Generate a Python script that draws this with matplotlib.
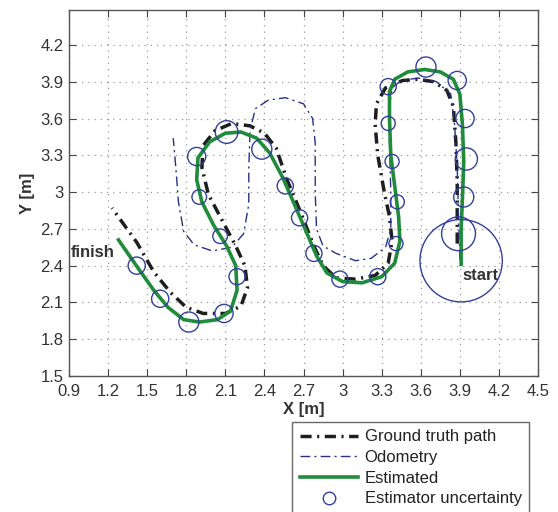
"""Recreate the trajectory comparison plot: ground truth, odometry, estimate."""

import matplotlib

matplotlib.use("Agg")
import matplotlib.pyplot as plt
from matplotlib.lines import Line2D
from matplotlib.ticker import FuncFormatter

plt.rcParams["font.family"] = ["Liberation Sans", "DejaVu Sans"]

# Ground truth path (start -> finish), metres
gt_x = [3.88, 3.88, 3.88, 3.87, 3.85, 3.80, 3.70, 3.58, 3.46, 3.33, 3.26, 3.25,
        3.27, 3.32, 3.36, 3.38, 3.35, 3.25, 3.10, 2.95, 2.85, 2.78, 2.68, 2.57,
        2.49, 2.40, 2.29, 2.15, 2.02, 1.93, 1.92, 1.97, 2.07, 2.18, 2.25, 2.27,
        2.22, 2.10, 1.93, 1.80, 1.68, 1.55, 1.42, 1.23]
gt_y = [2.58, 2.80, 3.08, 3.40, 3.70, 3.83, 3.90, 3.92, 3.91, 3.85, 3.72, 3.55,
        3.30, 3.00, 2.80, 2.60, 2.42, 2.32, 2.29, 2.30, 2.40, 2.56, 2.83, 3.11,
        3.36, 3.48, 3.54, 3.56, 3.50, 3.38, 3.20, 2.98, 2.78, 2.56, 2.40, 2.22,
        2.07, 2.01, 2.01, 2.06, 2.18, 2.35, 2.59, 2.87]

# Odometry (start -> end)
odo_x = [3.90, 3.89, 3.88, 3.86, 3.83, 3.72, 3.58, 3.45, 3.38, 3.36, 3.36, 3.37,
         3.37, 3.33, 3.22, 3.10, 2.95, 2.85, 2.80, 2.79, 2.79, 2.77, 2.70, 2.56,
         2.43, 2.33, 2.29, 2.28, 2.28, 2.24, 2.15, 2.00, 1.86, 1.78, 1.74, 1.72,
         1.70]
odo_y = [2.45, 2.80, 3.20, 3.55, 3.80, 3.90, 3.93, 3.91, 3.85, 3.70, 3.40, 3.00,
         2.70, 2.55, 2.46, 2.44, 2.50, 2.56, 2.70, 3.00, 3.40, 3.60, 3.72, 3.77,
         3.75, 3.68, 3.50, 3.20, 2.90, 2.66, 2.55, 2.52, 2.57, 2.68, 2.92, 3.20,
         3.44]

# Estimated path (start -> finish)
est_x = [3.91, 3.91, 3.92, 3.93, 3.92, 3.90, 3.85, 3.75, 3.63, 3.50, 3.40, 3.36,
         3.36, 3.37, 3.40, 3.43, 3.44, 3.40, 3.30, 3.15, 3.00, 2.88, 2.80, 2.72,
         2.63, 2.54, 2.44, 2.34, 2.22, 2.10, 1.98, 1.89, 1.88, 1.92, 2.01, 2.11,
         2.18, 2.19, 2.14, 2.04, 1.90, 1.78, 1.66, 1.55, 1.43, 1.28]
est_y = [2.41, 2.70, 2.95, 3.25, 3.55, 3.80, 3.92, 3.98, 4.00, 3.98, 3.92, 3.82,
         3.60, 3.30, 3.05, 2.80, 2.60, 2.42, 2.31, 2.26, 2.27, 2.34, 2.48, 2.68,
         2.90, 3.12, 3.32, 3.44, 3.49, 3.48, 3.41, 3.28, 3.10, 2.92, 2.73, 2.56,
         2.40, 2.20, 2.03, 1.96, 1.94, 1.96, 2.06, 2.20, 2.38, 2.61]

# Estimator uncertainty circles: centre and radius (metres)
unc_x = [3.91, 3.89, 3.93, 3.95, 3.94, 3.88, 3.64, 3.35, 3.35, 3.38, 3.42, 3.41,
         3.27, 2.98, 2.78, 2.67, 2.56, 2.38, 2.11, 1.88, 1.90, 2.06, 2.19, 2.09,
         1.82, 1.60, 1.42]
unc_y = [2.44, 2.66, 2.96, 3.27, 3.60, 3.91, 4.02, 3.86, 3.56, 3.25, 2.92, 2.58,
         2.31, 2.29, 2.50, 2.79, 3.05, 3.35, 3.49, 3.29, 2.96, 2.64, 2.31, 2.01,
         1.94, 2.13, 2.40]
unc_r = [0.316, 0.130, 0.077, 0.085, 0.070, 0.070, 0.077, 0.062, 0.054, 0.054,
         0.054, 0.054, 0.062, 0.062, 0.062, 0.062, 0.062, 0.077, 0.087, 0.070,
         0.056, 0.056, 0.062, 0.070, 0.077, 0.066, 0.066]

x_ticks = [0.9, 1.2, 1.5, 1.8, 2.1, 2.4, 2.7, 3.0, 3.3, 3.6, 3.9, 4.2, 4.5]
y_ticks = [1.5, 1.8, 2.1, 2.4, 2.7, 3.0, 3.3, 3.6, 3.9, 4.2]

GT_COLOR = "#1e1e1e"
ODO_COLOR = "#2a2f86"
EST_COLOR = "#1f8b3b"
UNC_COLOR = "#33409a"
GT_DASH = (3.2, 1.6, 0.6, 1.6)
ODO_DASH = (7, 3, 1.5, 3)

fig = plt.figure(figsize=(5.58, 5.12), dpi=100)
ax = fig.add_axes([69 / 558, 1 - 376 / 512, (538 - 69) / 558, (376 - 10) / 512])
ax.set_xlim(0.9, 4.5)
ax.set_ylim(1.5, 4.485)

ax.plot(gt_x, gt_y, color=GT_COLOR, linewidth=2.5, dashes=GT_DASH)
ax.plot(odo_x, odo_y, color=ODO_COLOR, linewidth=1.0, dashes=ODO_DASH)
ax.plot(est_x, est_y, color=EST_COLOR, linewidth=2.6)

# circle radius in metres -> marker size in points^2
fig.canvas.draw()
px_per_m = ax.transData.transform((1, 0))[0] - ax.transData.transform((0, 0))[0]
sizes = [(2 * r * px_per_m * 72 / fig.dpi) ** 2 for r in unc_r]
ax.scatter(unc_x, unc_y, s=sizes, facecolors="none", edgecolors=UNC_COLOR,
           linewidths=1.0, zorder=4)

ax.text(0.91, 2.51, "finish", fontsize=12, fontweight="bold", color="#333333",
        ha="left", va="center")
ax.text(3.92, 2.32, "start", fontsize=12, fontweight="bold", color="#333333",
        ha="left", va="center", zorder=5)

ax.set_xticks(x_ticks)
ax.set_yticks(y_ticks)
ax.xaxis.set_major_formatter(FuncFormatter(lambda v, _: f"{v:g}"))
ax.yaxis.set_major_formatter(FuncFormatter(lambda v, _: f"{v:g}"))
ax.tick_params(direction="in", length=5, width=0.8, top=True, right=True,
               labelsize=12, colors="#444444", labelcolor="#333333")
ax.tick_params(axis="x", pad=6)
ax.tick_params(axis="y", pad=4)
ax.grid(True, color="#9a9a9a", linestyle=(0, (1, 4)), linewidth=0.9)
for spine in ax.spines.values():
    spine.set_color("#555555")
    spine.set_linewidth(1.0)

ax.set_xlabel("X [m]", fontsize=12, fontweight="bold", color="#333333", labelpad=2)
ax.set_ylabel("Y [m]", fontsize=12, fontweight="bold", color="#333333", labelpad=4)

handles = [
    Line2D([], [], color=GT_COLOR, linewidth=2.5, dashes=GT_DASH),
    Line2D([], [], color=ODO_COLOR, linewidth=1.0, dashes=ODO_DASH),
    Line2D([], [], color=EST_COLOR, linewidth=2.6),
    Line2D([], [], color=UNC_COLOR, marker="o", markersize=9, linestyle="none",
           markerfacecolor="none", markeredgewidth=1.0),
]
labels = ["Ground truth path", "Odometry", "Estimated", "Estimator uncertainty"]
leg = fig.legend(handles, labels, loc="upper left",
                 bbox_to_anchor=(292 / 558, 1 - 422 / 512), fontsize=12,
                 frameon=True, fancybox=False, edgecolor="#444444",
                 handlelength=3.5, handletextpad=0.4, labelspacing=0.34,
                 borderpad=0.45, borderaxespad=0)
leg.get_frame().set_linewidth(1.0)
for t in leg.get_texts():
    t.set_color("#222222")

fig.savefig("out.png", dpi=100)
